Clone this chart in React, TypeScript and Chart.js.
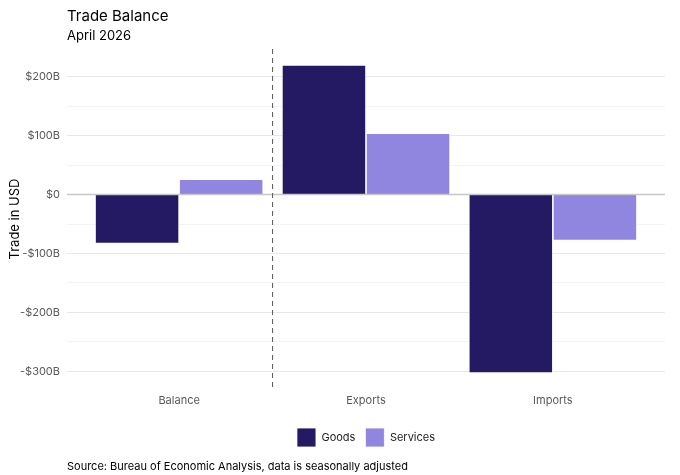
import React, { useEffect, useRef } from 'react';
import { Chart, registerables } from 'chart.js';

Chart.register(...registerables);

const categories = ['Balance', 'Exports', 'Imports'];
const goodsValues = [-83, 220, -303];
const servicesValues = [26, 104, -78];
const seriesNames = ['Goods', 'Services'];
const yTickValues = [-300, -250, -200, -150, -100, -50, 0, 50, 100, 150, 200];
const yLabelledTicks = [-300, -200, -100, 0, 100, 200];
const titleText = 'Trade Balance';
const subtitleText = 'April 2026';
const captionText = 'Source: Bureau of Economic Analysis, data is seasonally adjusted';
const yAxisTitle = 'Trade in USD';
const dividerAt = 1.5;

const FONT = 'Inter, "Noto Sans", sans-serif';

const fmt = (v: number) => {
  if (v === 0) return '$0';
  return (v < 0 ? '-$' : '$') + Math.abs(v) + 'B';
};

export default function App() {
  const ref = useRef<HTMLCanvasElement | null>(null);

  useEffect(() => {
    document.body.style.margin = '0';
    const canvas = ref.current;
    if (!canvas) return;

    const decor = {
      id: 'decor',
      afterDatasetsDraw(chart: any) {
        const { ctx, chartArea, scales } = chart;
        const y0 = scales.y.getPixelForValue(0);
        ctx.save();
        ctx.strokeStyle = '#c8c8c8';
        ctx.lineWidth = 1.5;
        ctx.beginPath();
        ctx.moveTo(chartArea.left, y0);
        ctx.lineTo(chartArea.right, y0);
        ctx.stroke();
        const xd = scales.x.getPixelForValue(dividerAt);
        ctx.strokeStyle = '#555555';
        ctx.lineWidth = 1;
        ctx.setLineDash([5, 4]);
        ctx.beginPath();
        ctx.moveTo(xd, chartArea.top);
        ctx.lineTo(xd, chartArea.bottom);
        ctx.stroke();
        ctx.restore();
      },
      afterDraw(chart: any) {
        const { ctx, chartArea } = chart;
        ctx.save();
        ctx.fillStyle = '#000000';
        ctx.textAlign = 'left';
        ctx.textBaseline = 'middle';
        ctx.font = `15px ${FONT}`;
        ctx.fillText(titleText, chartArea.left, 16);
        ctx.font = `13px ${FONT}`;
        ctx.fillText(subtitleText, chartArea.left, 36);
        ctx.font = `11px ${FONT}`;
        ctx.fillText(captionText, chartArea.left, 467);
        ctx.restore();
      },
    };

    const chart = new Chart(canvas, {
      type: 'bar',
      data: {
        datasets: [
          {
            label: seriesNames[0],
            data: goodsValues.map((v, i) => ({ x: i + 1, y: v })),
            backgroundColor: '#241a63',
            borderColor: '#ffffff',
            borderWidth: 0.8,
            categoryPercentage: 0.9,
            barPercentage: 1,
          },
          {
            label: seriesNames[1],
            data: servicesValues.map((v, i) => ({ x: i + 1, y: v })),
            backgroundColor: '#9085df',
            borderColor: '#ffffff',
            borderWidth: 0.8,
            categoryPercentage: 0.9,
            barPercentage: 1,
          },
        ],
      },
      options: {
        animation: false,
        responsive: false,
        maintainAspectRatio: false,
        layout: { padding: { left: 0, right: 15, top: 49, bottom: 18 } },
        scales: {
          x: {
            type: 'linear',
            min: 0.4,
            max: 3.6,
            offset: false,
            afterBuildTicks: (s: any) => {
              s.ticks = categories.map((_, i) => ({ value: i + 1 }));
            },
            afterFit: (s: any) => {
              s.height = 29;
            },
            grid: { display: false, drawTicks: false, offset: false },
            border: { display: false },
            ticks: {
              callback: (v: any) => categories[Math.round(Number(v)) - 1] ?? '',
              font: { family: FONT, size: 11 },
              color: '#595959',
              padding: 5,
              maxRotation: 0,
            },
          },
          y: {
            type: 'linear',
            min: -330,
            max: 247,
            afterBuildTicks: (s: any) => {
              s.ticks = yTickValues.map((v) => ({ value: v }));
            },
            afterFit: (s: any) => {
              s.width = 67;
            },
            grid: {
              drawTicks: false,
              color: (c: any) => (yLabelledTicks.includes(c.tick?.value) ? '#e8e8e8' : '#f3f3f3'),
              lineWidth: 1,
            },
            border: { display: false },
            ticks: {
              callback: (v: any) => (yLabelledTicks.includes(Number(v)) ? fmt(Number(v)) : ''),
              font: { family: FONT, size: 11 },
              color: '#595959',
              padding: 7,
            },
            title: {
              display: true,
              text: yAxisTitle,
              font: { family: FONT, size: 13 },
              color: '#000000',
              padding: { top: 7, bottom: 0 },
            },
          },
        },
        plugins: {
          legend: {
            position: 'bottom',
            fullSize: false,
            labels: {
              boxWidth: 19,
              boxHeight: 19,
              padding: 10,
              font: { family: FONT, size: 11 },
              color: '#222222',
            },
          },
          tooltip: { enabled: false },
          title: { display: false },
        },
      } as any,
      plugins: [decor],
    });

    return () => chart.destroy();
  }, []);

  return (
    <div style={{ width: 680, height: 475, position: 'relative' }}>
      <canvas ref={ref} width={680} height={475} style={{ width: 680, height: 475, display: 'block' }} />
    </div>
  );
}
